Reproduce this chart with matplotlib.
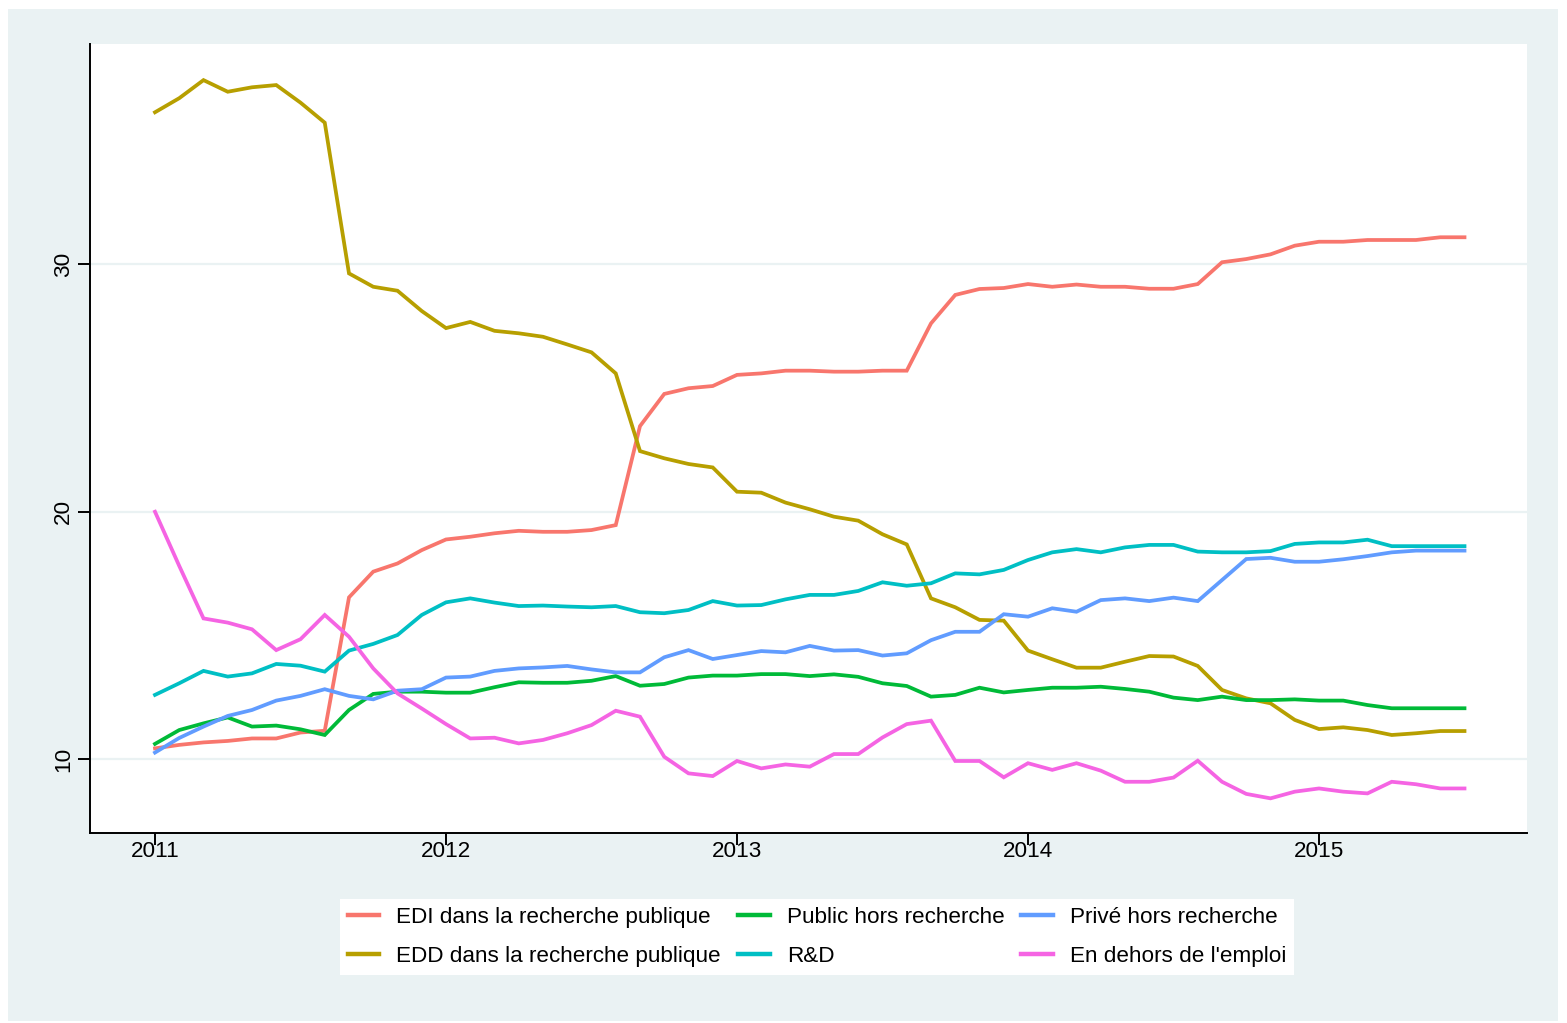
import numpy as np
import matplotlib
matplotlib.use("Agg")
import matplotlib.pyplot as plt
from matplotlib.patches import Rectangle

plt.rcParams["font.family"] = ["Liberation Sans", "DejaVu Sans"]

# monthly shares, 2011m1 .. 2015m7
START_YEAR = 2011
N_MONTHS = 55

edi = [10.43, 10.57, 10.67, 10.73, 10.83, 10.83, 11.07, 11.14, 16.53, 17.57,
       17.90, 18.44, 18.87, 18.98, 19.12, 19.22, 19.18, 19.18, 19.25, 19.45,
       23.45, 24.75, 24.98, 25.07, 25.52, 25.58, 25.69, 25.69, 25.65, 25.65,
       25.69, 25.69, 27.60, 28.75, 28.99, 29.03, 29.19, 29.08, 29.17, 29.08,
       29.08, 29.00, 29.00, 29.19, 30.07, 30.20, 30.39, 30.74, 30.90, 30.90,
       30.97, 30.97, 30.97, 31.08, 31.08]
edd = [36.13, 36.70, 37.43, 36.96, 37.14, 37.23, 36.52, 35.71, 29.62, 29.08,
       28.92, 28.10, 27.41, 27.66, 27.30, 27.20, 27.06, 26.75, 26.43, 25.58,
       22.44, 22.15, 21.92, 21.78, 20.80, 20.76, 20.36, 20.09, 19.79, 19.63,
       19.08, 18.67, 16.49, 16.13, 15.62, 15.59, 14.38, 14.03, 13.69, 13.69,
       13.93, 14.16, 14.14, 13.76, 12.79, 12.45, 12.25, 11.58, 11.21, 11.28,
       11.17, 10.97, 11.04, 11.13, 11.13]
public = [10.61, 11.17, 11.44, 11.68, 11.31, 11.35, 11.20, 10.97, 11.98, 12.63,
          12.72, 12.72, 12.68, 12.68, 12.90, 13.10, 13.08, 13.08, 13.16, 13.35,
          12.96, 13.03, 13.29, 13.37, 13.37, 13.43, 13.43, 13.35, 13.42, 13.32,
          13.06, 12.95, 12.52, 12.59, 12.88, 12.69, 12.79, 12.88, 12.88, 12.92,
          12.83, 12.72, 12.48, 12.38, 12.52, 12.38, 12.38, 12.41, 12.36, 12.36,
          12.18, 12.05, 12.05, 12.05, 12.05]
rnd = [12.59, 13.06, 13.56, 13.33, 13.46, 13.84, 13.77, 13.53, 14.38, 14.65,
       15.01, 15.82, 16.33, 16.49, 16.32, 16.18, 16.20, 16.16, 16.13, 16.18,
       15.93, 15.89, 16.02, 16.38, 16.20, 16.22, 16.45, 16.63, 16.63, 16.79,
       17.14, 17.00, 17.10, 17.50, 17.46, 17.64, 18.04, 18.35, 18.48, 18.35,
       18.55, 18.65, 18.65, 18.38, 18.35, 18.35, 18.40, 18.69, 18.75, 18.75,
       18.86, 18.60, 18.60, 18.60, 18.60]
prive = [10.26, 10.85, 11.31, 11.74, 11.98, 12.36, 12.55, 12.82, 12.55, 12.41,
         12.76, 12.82, 13.29, 13.33, 13.56, 13.66, 13.70, 13.76, 13.62, 13.50,
         13.50, 14.11, 14.40, 14.04, 14.20, 14.36, 14.31, 14.57, 14.38, 14.40,
         14.18, 14.27, 14.80, 15.14, 15.14, 15.85, 15.75, 16.09, 15.95, 16.42,
         16.49, 16.38, 16.52, 16.38, 17.23, 18.08, 18.13, 17.97, 17.97, 18.07,
         18.20, 18.35, 18.42, 18.42, 18.42]
dehors = [19.99, 17.80, 15.68, 15.51, 15.24, 14.40, 14.84, 15.82, 14.94, 13.66,
          12.65, 12.04, 11.41, 10.83, 10.86, 10.63, 10.77, 11.04, 11.37, 11.95,
          11.71, 10.09, 9.42, 9.31, 9.92, 9.62, 9.78, 9.69, 10.20, 10.20,
          10.87, 11.41, 11.55, 9.92, 9.92, 9.26, 9.83, 9.56, 9.83, 9.53,
          9.08, 9.08, 9.25, 9.93, 9.08, 8.59, 8.41, 8.68, 8.81, 8.68,
          8.61, 9.08, 8.98, 8.81, 8.81]

labels = ["EDI dans la recherche publique", "EDD dans la recherche publique",
          "Public hors recherche", "R&D", "Privé hors recherche",
          "En dehors de l'emploi"]
series = [edi, edd, public, rnd, prive, dehors]
colors = ["#F8766D", "#B79F00", "#00BA38", "#00BFC4", "#619CFF", "#F564E3"]

year_ticks = [2011, 2012, 2013, 2014, 2015]
y_ticks = [10, 20, 30]

BG = "#EAF2F3"
W, H = 1567, 1023
FS = 16.2


def main():
    t = START_YEAR + np.arange(N_MONTHS) / 12.0

    fig = plt.figure(figsize=(W / 100, H / 100), dpi=100, facecolor="white")
    # light outer graph region, Stata-like
    fig.patches.append(Rectangle((8 / W, 2 / H), 1550 / W, 1012 / H,
                                 transform=fig.transFigure, facecolor=BG,
                                 edgecolor="none", zorder=-10))

    ax = fig.add_axes([90 / W, 1 - 833 / H, 1437 / W, 789 / H])
    ax.set_zorder(1)
    ax.set_facecolor("white")

    for vals, lab, col in zip(series, labels, colors):
        ax.plot(t, vals, color=col, lw=2.7, label=lab, solid_joinstyle="miter")

    ax.set_xlim(START_YEAR - 65 / 291, START_YEAR + 1372 / 291)
    ax.set_ylim(10 - 74 / 24.75, 30 + 220 / 24.75)
    ax.set_xticks(year_ticks)
    ax.set_xticklabels([str(y) for y in year_ticks])
    ax.set_yticks(y_ticks)
    ax.set_yticklabels([str(v) for v in y_ticks], rotation=90, va="center")
    ax.yaxis.grid(True, color=BG, lw=1.6)
    ax.set_axisbelow(True)

    for s in ["top", "right"]:
        ax.spines[s].set_visible(False)
    for s in ["left", "bottom"]:
        ax.spines[s].set_linewidth(1.4)
    ax.tick_params(axis="both", direction="out", length=8.5, width=1.4,
                   labelsize=FS, colors="black")
    ax.tick_params(axis="x", pad=-3)
    ax.tick_params(axis="y", pad=3)

    leg = fig.legend(loc="center", bbox_to_anchor=(817 / W, 1 - 937 / H),
                     ncol=3, frameon=True, fancybox=False, fontsize=FS,
                     framealpha=1, handlelength=1.42, handletextpad=0.75,
                     columnspacing=0.75, labelspacing=0.8, borderpad=0.35)
    leg.set_zorder(5)
    leg.get_frame().set_facecolor("white")
    leg.get_frame().set_edgecolor("none")
    for ln in leg.get_lines():
        ln.set_linewidth(3.2)

    fig.savefig("out.png", dpi=100, facecolor="white")
    plt.close(fig)


if __name__ == "__main__":
    main()
